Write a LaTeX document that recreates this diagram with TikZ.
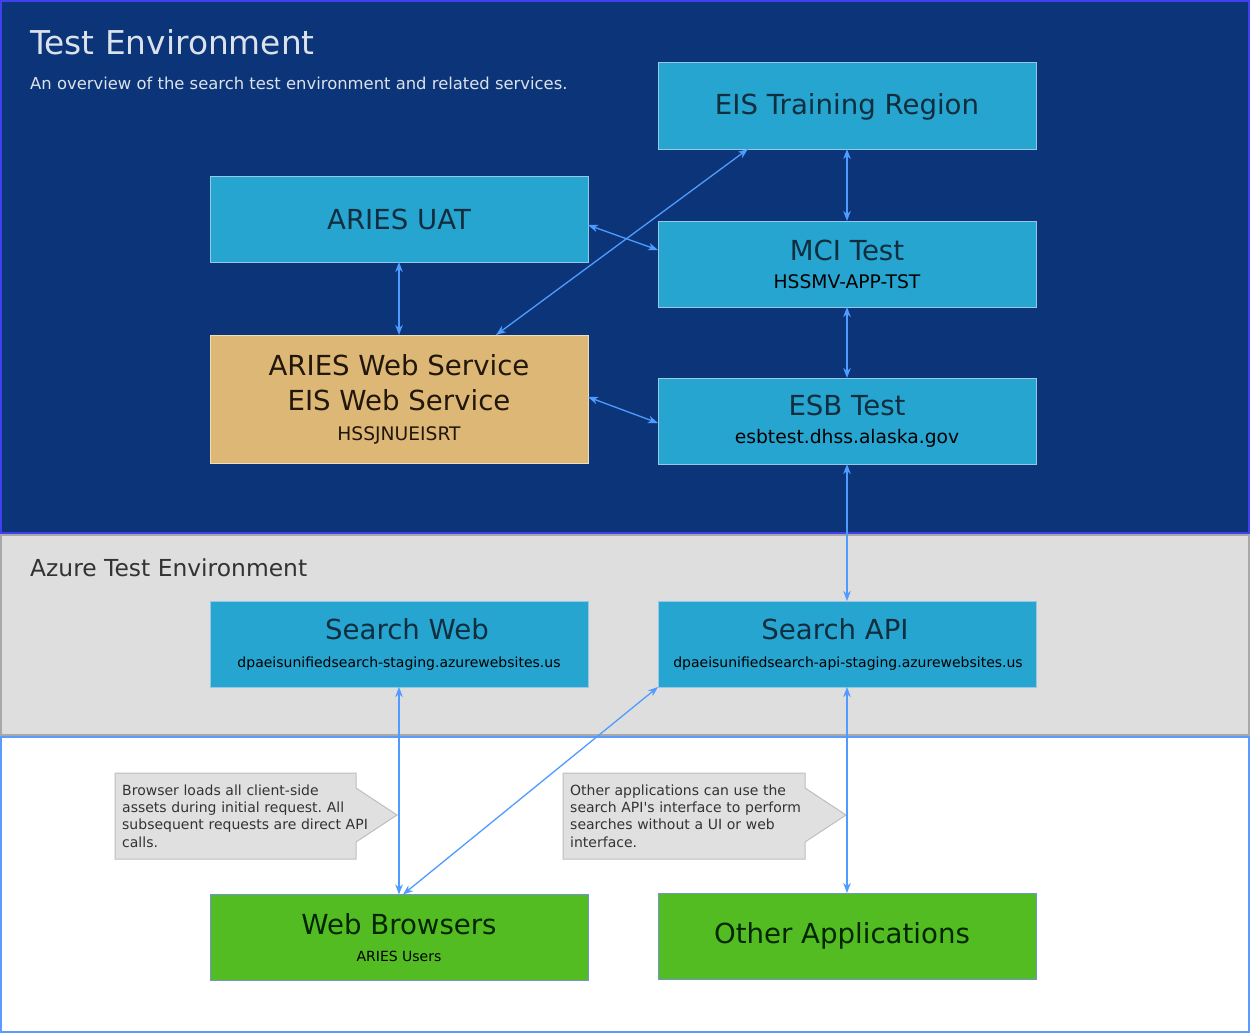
\documentclass[tikz,border=0pt]{standalone}
\usepackage{fontspec}
\usetikzlibrary{arrows.meta}
\newfontfamily\dejavu{DejaVu Sans}
\def\boxfont#1{\dejavu\fontsize{#1}{#1}\selectfont}
\frenchspacing
\definecolor{topbg}{RGB}{11,53,120}
\definecolor{topedge}{RGB}{64,64,240}
\definecolor{azurebg}{RGB}{222,222,222}
\definecolor{azureedge}{RGB}{168,168,168}
\definecolor{outedge}{RGB}{90,155,255}
\definecolor{svcfill}{RGB}{38,165,208}
\definecolor{svcedge}{RGB}{150,200,230}
\definecolor{tanfill}{RGB}{221,183,117}
\definecolor{tanedge}{RGB}{240,222,186}
\definecolor{greenfill}{RGB}{84,188,35}
\definecolor{greenedge}{RGB}{112,150,210}
\definecolor{linkblue}{RGB}{80,155,255}
\definecolor{notefill}{RGB}{224,224,224}
\definecolor{noteedge}{RGB}{190,190,190}
\definecolor{headtxt}{RGB}{220,226,236}
\definecolor{darktxt}{RGB}{16,46,62}
\definecolor{greytxt}{RGB}{51,51,51}

\begin{document}
\begin{tikzpicture}[x=1pt, y=-1pt,
		svc/.style={draw=svcedge, fill=svcfill, line width=1pt, minimum width=378pt, minimum height=86pt, inner sep=0pt, outer sep=0pt},
		host/.style={svc, draw=tanedge, fill=tanfill, minimum height=128pt},
		client/.style={svc, draw=greenedge, fill=greenfill},
		big/.style={anchor=base, inner sep=0pt, text=darktxt, font=\boxfont{27.6}},
		small/.style={anchor=base, inner sep=0pt, text=black, font=\boxfont{18.7}},
		tiny/.style={anchor=base, inner sep=0pt, text=black, font=\boxfont{14}},
		note/.style={draw=noteedge, fill=notefill, line width=1pt},
		notetext/.style={anchor=base west, inner sep=0pt, text=greytxt, text width=260pt, align=left, font=\dejavu\fontsize{14}{17.4}\selectfont},
		conn/.style={draw=linkblue, line width=1.3pt, >={Stealth[length=10pt,width=7.5pt,inset=3pt]}, <->}]
	%%%%% START %%%%%
	
	\useasboundingbox (0,0) rectangle (1250,1033);
	
	% environments
	\draw[line width=2pt, draw=topedge, fill=topbg] (1,1) rectangle (1249,533);
	\draw[line width=2pt, draw=azureedge, fill=azurebg] (1,534.5) rectangle (1249,735);
	\draw[line width=2pt, draw=outedge, fill=white] (1,736.5) rectangle (1249,1032);
	
	\node[anchor=base west, inner sep=0pt, text=headtxt, font=\boxfont{32.8}] (head) at (30,55) {Test Environment};
	\node[anchor=base west, inner sep=0pt, text=headtxt, font=\boxfont{16.4}] (subhead) at (30,89) {An overview of the search test environment and related services.};
	\node[anchor=base west, inner sep=0pt, text=greytxt, font=\boxfont{23.4}] (azhead) at (30,576) {Azure Test Environment};
	
	% services
	\node[svc] (eis) at (847,106) {};
	\node[big] (eis-t) at (847,114) {EIS Training Region};
	
	\node[svc] (uat) at (399,219) {};
	\node[big] (uat-t) at (399,229) {ARIES UAT};
	
	\node[svc] (mci) at (847,264) {};
	\node[big] (mci-t) at (847,260) {MCI Test};
	\node[small] (mci-s) at (847,288) {HSSMV-APP-TST};
	
	\node[host] (aws) at (399,399) {};
	\node[big, text=black!82!brown] (aws-t1) at (399,375) {ARIES Web Service};
	\node[big, text=black!82!brown] (aws-t2) at (399,410.5) {EIS Web Service};
	\node[small, text=black!82!brown] (aws-s) at (399,440.5) {HSSJNUEISRT};
	
	\node[svc] (esb) at (847,421) {};
	\node[big] (esb-t) at (847,415) {ESB Test};
	\node[small] (esb-s) at (847,443) {esbtest.dhss.alaska.gov};
	
	\node[svc] (sweb) at (399,644) {};
	\node[big] (sweb-t) at (407,639.5) {Search Web};
	\node[tiny] (sweb-s) at (399,667) {dpaeisunifiedsearch-staging.azurewebsites.us};
	
	\node[svc] (sapi) at (847,644) {};
	\node[big] (sapi-t) at (835,639.5) {Search API};
	\node[tiny] (sapi-s) at (848,667) {dpaeisunifiedsearch-api-staging.azurewebsites.us};
	
	% clients
	\node[client] (wb) at (399,937.5) {};
	\node[big, text=black!85!green] (wb-t) at (399,934.5) {Web Browsers};
	\node[tiny] (wb-s) at (399,961) {ARIES Users};
	
	\node[client] (oth) at (847,936) {};
	\node[big, text=black!85!green] (oth-t) at (842,943) {Other Applications};
	
	% notes
	\draw[note] (115,773) -- (356,773) -- (356,788) -- (397,815) -- (356,842) -- (356,859) -- (115,859) -- cycle;
	\node[notetext] (note-web) at (122,795) {Browser loads all client-side\\assets during initial request. All\\subsequent requests are direct API\\calls.};
	
	\draw[note] (563,773) -- (805,773) -- (805,788) -- (846,815) -- (805,842) -- (805,859) -- (563,859) -- cycle;
	\node[notetext] (note-api) at (570,795) {Other applications can use the\\search API's interface to perform\\searches without a UI or web\\interface.};
	
	% links
	\draw[conn] (eis.south) -- (mci.north);
	\draw[conn] ([yshift=-6pt]uat.east) -- ([yshift=14pt]mci.west);
	\draw[conn] ([xshift=-99pt]eis.south) -- ([xshift=97pt]aws.north);
	\draw[conn] (uat.south) -- (aws.north);
	\draw[conn] (mci.south) -- (esb.north);
	\draw[conn] ([yshift=2pt]aws.east) -- ([yshift=-2pt]esb.west);
	\draw[conn] (esb.south) -- (sapi.north);
	\draw[conn] (sweb.south) -- (wb.north);
	\draw[conn] (sapi.south west) -- ([xshift=4pt]wb.north);
	\draw[conn] (sapi.south) -- (oth.north);
	
	%%%%% END %%%%%
\end{tikzpicture}
\end{document}
